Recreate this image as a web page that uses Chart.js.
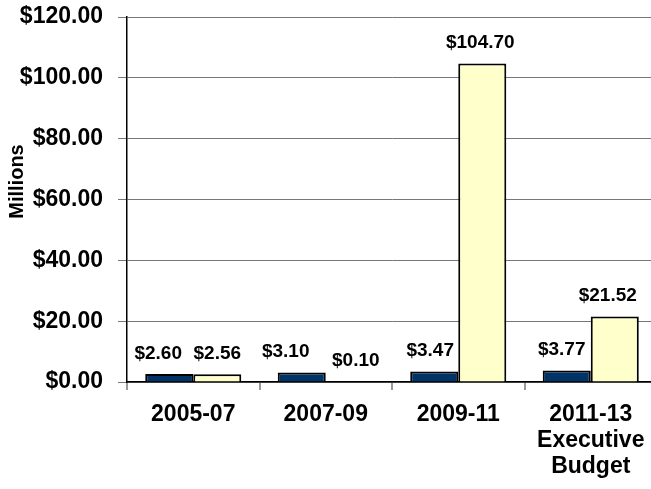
<!DOCTYPE html>
<html>
<head>
<meta charset="utf-8">
<script src="https://cdn.jsdelivr.net/npm/chart.js@4/dist/chart.umd.min.js"></script>
<style>
  html, body { margin: 0; padding: 0; background: #fff; overflow: hidden; }
  #wrap { width: 651px; height: 489px; overflow: hidden; }
  canvas { display: block; }
</style>
</head>
<body>
<div id="wrap"><canvas id="c" width="657" height="489"></canvas></div>
<script>
// Biennium categories (multi-line labels)
const categories = [
  ['2005-07'],
  ['2007-09'],
  ['2009-11'],
  ['2011-13', 'Executive', 'Budget']
];
// Two series, in millions of dollars
const seriesA = [2.60, 3.10, 3.47, 3.77];
const seriesB = [2.56, 0.10, 104.70, 21.52];
// Y axis ticks
const yTicks = [0, 20, 40, 60, 80, 100, 120];
const yTitle = 'Millions';

const FONT = "'Liberation Sans', Arial, sans-serif";

const money = v => '$' + v.toFixed(2);

// Value labels above the bars, plus the rotated axis title
const annotate = {
  id: 'annotate',
  afterDatasetsDraw(chart, args, opts) {
    const ctx = chart.ctx;
    ctx.save();
    ctx.font = 'bold 19px ' + FONT;
    ctx.fillStyle = '#000';
    ctx.textAlign = 'center';
    ctx.textBaseline = 'bottom';
    chart.data.datasets.forEach((ds, di) => {
      const nudge = opts.nudge[di];
      chart.getDatasetMeta(di).data.forEach((bar, i) => {
        ctx.fillText(money(ds.data[i]), bar.x + nudge[i], bar.y - 11);
      });
    });
    ctx.restore();
  },
  afterDraw(chart) {
    const ctx = chart.ctx;
    const area = chart.chartArea;
    ctx.save();
    ctx.translate(17, (area.top + area.bottom) / 2 - 18);
    ctx.rotate(-Math.PI / 2);
    ctx.font = 'bold 20px ' + FONT;
    ctx.fillStyle = '#000';
    ctx.textAlign = 'center';
    ctx.textBaseline = 'middle';
    ctx.fillText(yTitle, 0, 0);
    ctx.restore();
  }
};

new Chart(document.getElementById('c'), {
  type: 'bar',
  data: {
    labels: categories,
    datasets: [
      { data: seriesA, backgroundColor: '#003366', borderColor: '#000', borderWidth: 2, borderSkipped: 'bottom' },
      { data: seriesB, backgroundColor: '#FFFFCC', borderColor: '#000', borderWidth: 2, borderSkipped: 'bottom' }
    ]
  },
  options: {
    responsive: false,
    animation: false,
    devicePixelRatio: 1,
    layout: { padding: { top: 17, right: 0, left: 0, bottom: 0 } },
    plugins: {
      legend: { display: false },
      tooltip: { enabled: false },
      // horizontal shifts (px) keeping neighbouring value labels apart
      annotate: { nudge: [[-11, -16, -4, -5], [0, 6, -2, -7]] }
    },
    datasets: { bar: { categoryPercentage: 0.725, barPercentage: 1.0 } },
    scales: {
      x: {
        offset: true,
        grid: { offset: true, drawOnChartArea: false, drawTicks: true, tickLength: 8, color: '#999', lineWidth: 2 },
        border: { color: '#000', width: 1.5 },
        ticks: {
          color: '#000',
          font: { family: FONT, size: 23, weight: 'bold', lineHeight: 1.15 },
          padding: 11,
          maxRotation: 0,
          autoSkip: false
        },
        afterFit(scale) { scale.height = 107; }
      },
      y: {
        min: 0,
        max: 120,
        afterBuildTicks(scale) { scale.ticks = yTicks.map(v => ({ value: v })); },
        grid: { color: '#777', lineWidth: 1, tickLength: 9, drawTicks: true },
        border: { color: '#000', width: 1.5 },
        ticks: {
          color: '#000',
          font: { family: FONT, size: 23, weight: 'bold' },
          padding: 15,
          callback: v => money(v)
        },
        afterFit(scale) {
          scale.width = 127;
          scale.paddingTop = 0;
          scale.paddingBottom = 0;
        }
      }
    }
  },
  plugins: [annotate]
});
</script>
</body>
</html>
